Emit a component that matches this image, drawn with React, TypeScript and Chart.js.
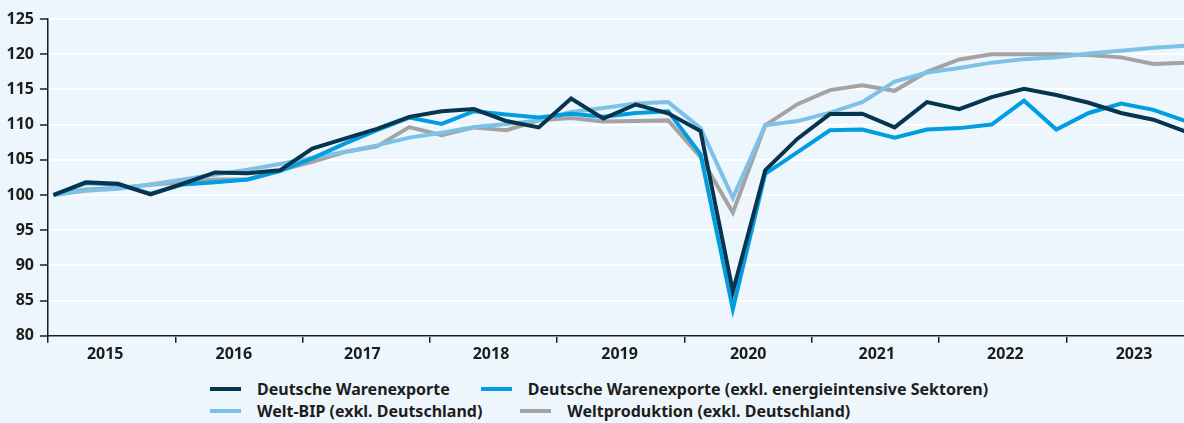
import React, { useEffect, useRef } from 'react';
import { Chart, registerables } from 'chart.js';

Chart.register(...registerables);

const years = ['2015', '2016', '2017', '2018', '2019', '2020', '2021', '2022', '2023'];
const quartersPerYear = 4;

const seriesLabels = [
  'Deutsche Warenexporte',
  'Deutsche Warenexporte (exkl. energieintensive Sektoren)',
  'Welt-BIP (exkl. Deutschland)',
  'Weltproduktion (exkl. Deutschland)',
];

const seriesColors = ['#06354f', '#009de0', '#7dc2e6', '#a3a3a3'];

const warenexporte = [
  100.0, 101.8, 101.6, 100.1, 101.6, 103.2, 103.1, 103.5, 106.6, 108.0, 109.4, 111.1,
  111.9, 112.2, 110.5, 109.6, 113.7, 110.85, 112.85, 111.6, 109.1, 86.3, 103.5, 108.0,
  111.5, 111.55, 109.6, 113.2, 112.2, 113.9, 115.1, 114.2, 113.1, 111.65, 110.7, 109.0,
];

const warenexporteExklEnergie = [
  100.0, 101.7, 101.5, 100.2, 101.5, 101.8, 102.2, 103.4, 105.2, 107.3, 109.2, 111.0,
  110.1, 111.9, 111.45, 111.0, 111.55, 111.1, 111.65, 111.9, 105.8, 83.8, 103.0, 106.1,
  109.2, 109.3, 108.15, 109.3, 109.5, 110.0, 113.4, 109.3, 111.65, 113.0, 112.1, 110.5,
];

const weltBip = [
  100.0, 100.6, 100.9, 101.5, 102.2, 102.9, 103.6, 104.4, 105.3, 106.1, 107.05, 108.15,
  108.85, 109.65, 110.1, 110.6, 111.8, 112.35, 113.0, 113.2, 109.5, 99.6, 109.9, 110.5,
  111.7, 113.2, 116.1, 117.4, 118.05, 118.8, 119.3, 119.55, 120.1, 120.5, 120.9, 121.2,
];

const weltproduktion = [
  100.0, 100.8, 101.0, 101.45, 101.8, 102.2, 102.2, 103.5, 104.7, 106.1, 106.9, 109.65,
  108.5, 109.6, 109.2, 110.6, 110.95, 110.45, 110.5, 110.6, 105.4, 97.5, 109.9, 112.9,
  114.9, 115.6, 114.8, 117.5, 119.25, 120.0, 120.0, 120.0, 119.9, 119.55, 118.6, 118.8,
];

const seriesValues = [warenexporte, warenexporteExklEnergie, weltBip, weltproduktion];

const yMin = 80;
const yMax = 125;
const yStep = 5;

const legendRows = [
  [0, 1],
  [2, 3],
];

const FONT = '"Noto Sans", "DejaVu Sans", sans-serif';
const TEXT = '#1d1d1b';
const AXIS = '#1d1d1b';
const BG = '#eef6fd';

export default function App() {
  const ref = useRef<HTMLCanvasElement>(null);

  useEffect(() => {
    if (!ref.current) return;
    const quarterCount = warenexporte.length;
    const chart = new Chart(ref.current, {
      type: 'line',
      data: {
        datasets: seriesValues.map((vals, s) => ({
          label: seriesLabels[s],
          data: vals.map((v, i) => ({ x: i, y: v })),
          borderColor: seriesColors[s],
          backgroundColor: seriesColors[s],
          borderWidth: 4,
          pointRadius: 0,
          tension: 0,
          fill: false,
          xAxisID: 'x',
          yAxisID: 'y',
        })),
      },
      options: {
        responsive: false,
        animation: false,
        events: [],
        layout: { padding: { top: 19, left: 0.5, right: 6.3, bottom: 6 } },
        plugins: {
          legend: { display: false },
          tooltip: { enabled: false },
        },
        scales: {
          x: {
            type: 'linear',
            position: 'bottom',
            bounds: 'data',
            min: -0.17,
            max: quarterCount - 1 + 0.245,
            weight: 1,
            grid: { display: false, drawTicks: false },
            border: { display: false },
            afterBuildTicks: (axis: any) => {
              axis.ticks = years.map((_, k) => ({ value: 1.6 + k * (quartersPerYear - 0.025) }));
            },
            ticks: {
              autoSkip: false,
              maxRotation: 0,
              padding: 2,
              color: TEXT,
              font: { family: FONT, size: 16, weight: 'bold' },
              callback: (_v: any, i: number) => years[i],
            },
          },
          years: {
            type: 'linear',
            position: 'bottom',
            min: 0,
            max: years.length,
            weight: 0,
            ticks: { display: false, stepSize: 1 },
            grid: {
              drawOnChartArea: false,
              drawTicks: true,
              tickLength: 7,
              tickColor: AXIS,
              lineWidth: 1.5,
            },
            border: { display: true, color: AXIS, width: 1.5 },
          },
          y: {
            type: 'linear',
            min: yMin,
            max: yMax,
            ticks: {
              stepSize: yStep,
              padding: 6,
              color: TEXT,
              font: { family: FONT, size: 16, weight: 'bold' },
            },
            grid: {
              color: '#ffffff',
              lineWidth: 2,
              tickLength: 8,
              tickColor: AXIS,
              tickWidth: 1.5,
            },
            border: { display: true, color: AXIS, width: 1.5 },
          },
        },
      },
    });
    return () => chart.destroy();
  }, []);

  return (
    <div
      style={{
        position: 'fixed',
        left: 0,
        top: 0,
        width: 1184,
        height: 423,
        overflow: 'hidden',
        background: BG,
      }}
    >
      <div style={{ position: 'absolute', left: 0, top: 0, width: 1200, height: 372 }}>
        <canvas ref={ref} width={1200} height={372} />
      </div>
      <div
        style={{
          position: 'absolute',
          left: 210,
          top: 378,
          fontFamily: FONT,
          fontWeight: 'bold',
          fontSize: 16,
          color: TEXT,
        }}
      >
        {legendRows.map((row, r) => (
          <div key={r} style={{ display: 'flex', alignItems: 'center', height: 22, whiteSpace: 'nowrap' }}>
            {row.map((s) => (
              <div key={s} style={{ display: 'flex', alignItems: 'center', marginRight: r === 0 ? 31 : 38 }}>
                <span
                  style={{
                    display: 'inline-block',
                    width: 31,
                    height: 4,
                    background: seriesColors[s],
                    marginRight: 16,
                  }}
                />
                <span>{seriesLabels[s]}</span>
              </div>
            ))}
          </div>
        ))}
      </div>
    </div>
  );
}
